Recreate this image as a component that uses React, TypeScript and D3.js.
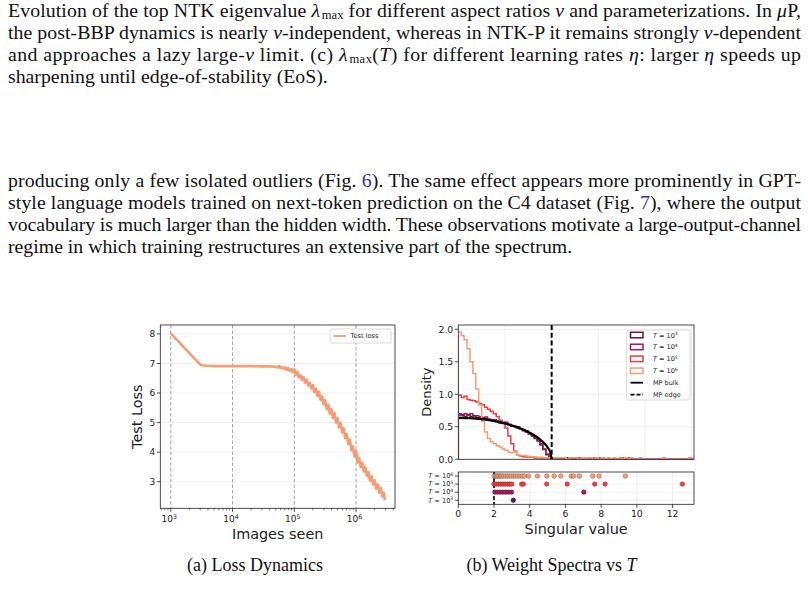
import React from 'react';
import * as d3 from 'd3';

// constants
const W = 808;
const H = 593;
const SANS = '"DejaVu Sans", sans-serif';
const SERIF = '"Liberation Serif", "Times New Roman", serif';
const INK = '#222';

// ---------- paper text ----------
type Seg = [string, string?];
const para1: Seg[][] = [
  [['Evolution of the top NTK eigenvalue '], ['λ', 'i'], ['max', 'sub'], [' for different aspect ratios '], ['ν', 'i'], [' and parameterizations. In '], ['μ', 'i'], ['P,']],
  [['the post-BBP dynamics is nearly '], ['ν', 'i'], ['-independent, whereas in NTK-P it remains strongly '], ['ν', 'i'], ['-dependent']],
  [['and approaches a lazy large-'], ['ν', 'i'], [' limit. (c) '], ['λ', 'i'], ['max', 'sub'], ['('], ['T', 'i'], [')'], [' for different learning rates '], ['η', 'i'], [': larger '], ['η', 'i'], [' speeds up']],
  [['sharpening until edge-of-stability (EoS).']],
];
const para2: Seg[][] = [
  [['producing only a few isolated outliers (Fig. '], ['6', 'blue'], ['). The same effect appears more prominently in GPT-']],
  [['style language models trained on next-token prediction on the C4 dataset (Fig. '], ['7', 'blue'], ['), where the output']],
  [['vocabulary is much larger than the hidden width. These observations motivate a large-output-channel']],
  [['regime in which training restructures an extensive part of the spectrum.']],
];

// ---------- (a) loss dynamics ----------
const lossSteps = [
  1.0e3, 1.5e3, 2.0e3, 2.5e3, 3.0e3, 3.5e3, 4.0e3, 5.0e3, 1.0e4, 2.0e4, 3.0e4, 4.0e4,
  5.01e4, 5.31e4, 5.62e4, 5.96e4, 6.31e4, 6.68e4, 7.08e4, 7.50e4, 7.94e4, 8.41e4, 8.91e4, 9.44e4,
  1.00e5, 1.06e5, 1.12e5, 1.19e5, 1.26e5, 1.33e5, 1.41e5, 1.50e5, 1.58e5, 1.68e5, 1.78e5, 1.88e5,
  2.00e5, 2.11e5, 2.24e5, 2.37e5, 2.51e5, 2.66e5, 2.82e5, 2.99e5, 3.16e5, 3.35e5, 3.55e5, 3.76e5,
  3.98e5, 4.22e5, 4.47e5, 4.73e5, 5.01e5, 5.31e5, 5.62e5, 5.96e5, 6.31e5, 6.68e5, 7.08e5, 7.50e5,
  7.94e5, 8.41e5, 8.91e5, 9.44e5, 1.00e6, 1.06e6, 1.12e6, 1.19e6, 1.26e6, 1.33e6, 1.41e6, 1.50e6,
  1.58e6, 1.68e6, 1.78e6, 1.88e6, 2.00e6, 2.11e6, 2.24e6, 2.37e6, 2.51e6, 2.66e6, 2.82e6, 2.92e6,
];
const lossValues = [
  8.02, 7.63, 7.35, 7.14, 6.96, 6.93, 6.92, 6.91, 6.91, 6.91, 6.90, 6.90,
  6.89, 6.86, 6.92, 6.85, 6.88, 6.82, 6.87, 6.78, 6.85, 6.75, 6.81, 6.70,
  6.80, 6.61, 6.72, 6.53, 6.60, 6.44, 6.54, 6.35, 6.45, 6.25, 6.35, 6.15,
  6.27, 6.03, 6.15, 5.90, 6.05, 5.77, 5.89, 5.61, 5.75, 5.45, 5.61, 5.30,
  5.47, 5.15, 5.33, 5.00, 5.15, 4.83, 4.99, 4.66, 4.82, 4.47, 4.61, 4.27,
  4.42, 4.07, 4.19, 3.85, 4.05, 3.65, 3.81, 3.49, 3.65, 3.34, 3.50, 3.19,
  3.33, 3.04, 3.19, 2.90, 3.05, 2.76, 2.91, 2.63, 2.79, 2.50, 2.63, 2.38,
];
const lossYTicks = [3, 4, 5, 6, 7, 8];
const lossXTicks = [1e3, 1e4, 1e5, 1e6];
const lossXLabels = ['3', '4', '5', '6'];
const lossColor = '#f69c73';

// ---------- (b) weight spectra ----------
const tExponents = ['3', '4', '5', '6'];
const tColors = ['#4c1d4b', '#a11a5b', '#e83f3f', '#f69c73'];
const binWidth = 0.0625;
const binCount = 81;
// densities for bins from 0 to 2 (bulk)
const hist1e3 = [0.68, 0.69, 0.66, 0.68, 0.66, 0.67, 0.64, 0.65, 0.62, 0.63, 0.61, 0.61, 0.59, 0.59, 0.56, 0.57,
  0.54, 0.54, 0.51, 0.51, 0.48, 0.47, 0.44, 0.42, 0.39, 0.36, 0.32, 0.28, 0.22, 0.15, 0.07, 0.02];
const hist1e4 = [0.70, 0.67, 0.70, 0.68, 0.70, 0.66, 0.67, 0.65, 0.64, 0.65, 0.62, 0.60, 0.61, 0.58, 0.58, 0.56,
  0.57, 0.53, 0.52, 0.50, 0.50, 0.47, 0.45, 0.44, 0.40, 0.38, 0.34, 0.30, 0.24, 0.16, 0.08, 0.03];
const hist1e5 = [0.99, 0.95, 0.97, 0.92, 0.91, 0.90, 0.88, 0.86, 0.84, 0.80, 0.77, 0.74, 0.70, 0.66, 0.60, 0.55,
  0.48, 0.36, 0.24, 0.12, 0.07, 0.05, 0.04, 0.035, 0.03, 0.03, 0.02, 0.02, 0.02, 0.01, 0.01, 0.01];
const hist1e6 = [1.96, 1.90, 1.84, 1.70, 1.50, 1.32, 1.08, 0.84, 0.58, 0.42, 0.32, 0.27, 0.24, 0.21, 0.19, 0.16,
  0.14, 0.11, 0.10, 0.13, 0.07, 0.06, 0.06, 0.05, 0.04, 0.04, 0.035, 0.03, 0.03, 0.025, 0.02, 0.02];
const hists = [hist1e3, hist1e4, hist1e5, hist1e6];
const tailDensityPerValue = 0.025;

// Marchenko-Pastur bulk
const mpS = [0, 0.25, 0.5, 0.75, 1.0, 1.25, 1.5, 1.65, 1.75, 1.85, 1.92, 1.97, 2.0];
const mpDensity = [0.637, 0.632, 0.617, 0.590, 0.551, 0.497, 0.421, 0.360, 0.308, 0.241, 0.177, 0.110, 0.0];
const mpEdge = 2;

// singular values above the edge
const outliers1e3 = [3.08];
const outliers1e4 = [2.05, 2.2, 2.35, 2.5, 2.65, 2.8, 2.98, 7.03];
const outliers1e5 = [2.0, 2.12, 2.25, 2.38, 2.5, 2.62, 2.75, 2.88, 3.0, 3.55, 3.65, 4.95, 6.1, 7.64, 8.22, 12.55];
const outliers1e6 = [2.02, 2.08, 2.15, 2.22, 2.3, 2.38, 2.45, 2.55, 2.65, 2.75, 2.85, 2.95, 3.08, 3.2, 3.32, 3.45,
  3.58, 3.7, 3.93, 4.43, 4.96, 5.37, 5.74, 6.33, 6.45, 6.78, 7.53, 7.88, 9.35];
const outliers = [outliers1e3, outliers1e4, outliers1e5, outliers1e6];

const densityTicks = [0, 0.5, 1.0, 1.5, 2.0];
const singularTicks = [0, 2, 4, 6, 8, 10, 12];

// layout
const aL = { x0: 160.3, x1: 395, y0: 325, y1: 508.3 };
const aT = { x0: 458.3, x1: 694, y0: 325, y1: 459.3 };
const aB = { x0: 458.3, x1: 694, y0: 472, y1: 504.3 };

const TextLines = ({ lines, y0, lead }: { lines: Seg[][]; y0: number; lead: number }) => (
  <g fontFamily={SERIF} fontSize={19.8} fill="#111">
    {lines.map((segs, li) => {
      const justify = li < lines.length - 1;
      let shift = 0;
      return (
        <text key={li} x={8} y={y0 + li * lead} textLength={justify ? 793 : undefined} lengthAdjust="spacing">
          {segs.map(([t, s], si) => {
            let dy = 0;
            if (s === 'sub') { dy = 2.5 - shift; shift = 2.5; } else { dy = -shift; shift = 0; }
            return (
              <tspan key={si} dy={dy || undefined} dx={s === 'sub' ? 1.5 : undefined}
                fontStyle={s === 'i' ? 'italic' : undefined}
                fontSize={s === 'sub' ? 12.5 : undefined}
                fill={s === 'blue' ? '#2f2fb8' : undefined}>{t}</tspan>
            );
          })}
        </text>
      );
    })}
  </g>
);

const TLabel = ({ x, y, exp, anchor, size }: { x: number; y: number; exp: string; anchor: string; size: number }) => (
  <text x={x} y={y} textAnchor={anchor} fontFamily={SANS} fontSize={size} fill={INK}>
    <tspan fontStyle="italic">T</tspan>
    <tspan>{' = 10'}</tspan>
    <tspan dy={-size * 0.4} fontSize={size * 0.7}>{exp}</tspan>
  </text>
);

export default function App() {
  // (a) scales
  const xL = d3.scaleLog().domain([676, 4.27e6]).range([aL.x0, aL.x1]);
  const yL = d3.scaleLinear().domain([2.1, 8.3]).range([aL.y1, aL.y0]);
  const lossLine = d3.line<number>().x((d, i) => xL(lossSteps[i])).y(d => yL(d));
  const minorL: number[] = [];
  [100, 1e3, 1e4, 1e5, 1e6].forEach(dec => d3.range(2, 10).forEach(m => {
    const v = dec * m;
    if (v > xL.domain()[0] && v < xL.domain()[1]) minorL.push(v);
  }));

  // (b) scales
  const xT = d3.scaleLinear().domain([0, 5.05]).range([aT.x0, aT.x1]);
  const yT = d3.scaleLinear().domain([0, 2.066]).range([aT.y1, aT.y0]);
  const xB = d3.scaleLinear().domain([0, 13.2]).range([aB.x0, aB.x1]);
  const yB = d3.scaleLinear().domain([-0.5, 3.5]).range([aB.y1, aB.y0]);

  const fullHist = (si: number) => {
    const h = d3.range(binCount).map(k => (k < hists[si].length ? hists[si][k] : 0));
    outliers[si].forEach(v => {
      const k = Math.floor(v / binWidth);
      if (k >= hists[si].length && k < binCount) h[k] += tailDensityPerValue;
    });
    return h;
  };
  const stepPath = (h: number[]) => {
    const pts: [number, number][] = [[0, 0]];
    h.forEach((v, k) => { pts.push([k * binWidth, v]); pts.push([(k + 1) * binWidth, v]); });
    pts.push([binCount * binWidth, 0]);
    return d3.line<[number, number]>().x(d => xT(d[0])).y(d => yT(d[1]))(pts) || '';
  };
  const mpLine = d3.line<number>().x((d, i) => xT(mpS[i])).y(d => yT(d)).curve(d3.curveMonotoneX);

  return (
    <div style={{ position: 'absolute', left: 0, top: 0 }}>
      <svg width={W} height={H} style={{ display: 'block', background: '#fff' }}>
        <defs>
          <clipPath id="clipT"><rect x={aT.x0} y={aT.y0} width={aT.x1 - aT.x0} height={aT.y1 - aT.y0} /></clipPath>
          <clipPath id="clipL"><rect x={aL.x0} y={aL.y0} width={aL.x1 - aL.x0} height={aL.y1 - aL.y0} /></clipPath>
        </defs>

        <TextLines lines={para1} y0={16.5} lead={22.2} />
        <TextLines lines={para2} y0={186.5} lead={22.2} />

        {/* ---------- (a) ---------- */}
        <g>
          {lossYTicks.map(t => (
            <line key={t} x1={aL.x0} x2={aL.x1} y1={yL(t)} y2={yL(t)} stroke="#ebebeb" strokeWidth={0.8} />
          ))}
          {lossXTicks.map(t => (
            <line key={t} x1={xL(t)} x2={xL(t)} y1={aL.y0} y2={aL.y1} stroke="#9a9a9a" strokeWidth={0.9} strokeDasharray="3.5,2" />
          ))}
          <path d={lossLine(lossValues) || ''} fill="none" stroke={lossColor} strokeWidth={2.6} clipPath="url(#clipL)" strokeLinejoin="round" />
          <rect x={aL.x0} y={aL.y0} width={aL.x1 - aL.x0} height={aL.y1 - aL.y0} fill="none" stroke={INK} strokeWidth={0.8} />
          {lossYTicks.map(t => (
            <g key={t}>
              <line x1={aL.x0 - 3.5} x2={aL.x0} y1={yL(t)} y2={yL(t)} stroke={INK} strokeWidth={0.8} />
              <text x={aL.x0 - 5} y={yL(t) + 3.2} textAnchor="end" fontFamily={SANS} fontSize={9} fill={INK}>{t}</text>
            </g>
          ))}
          {minorL.map(t => (
            <line key={t} x1={xL(t)} x2={xL(t)} y1={aL.y1} y2={aL.y1 + 2} stroke={INK} strokeWidth={0.6} />
          ))}
          {lossXTicks.map((t, i) => (
            <g key={t}>
              <line x1={xL(t)} x2={xL(t)} y1={aL.y1} y2={aL.y1 + 3.5} stroke={INK} strokeWidth={0.8} />
              <text x={xL(t) - 1.5} y={aL.y1 + 14} textAnchor="middle" fontFamily={SANS} fontSize={9} fill={INK}>
                10<tspan dy={-3.8} fontSize={6.3}>{lossXLabels[i]}</tspan>
              </text>
            </g>
          ))}
          <text x={(aL.x0 + aL.x1) / 2} y={538.5} textAnchor="middle" fontFamily={SANS} fontSize={14.4} fill={INK}>Images seen</text>
          <text transform={`translate(142,${(aL.y0 + aL.y1) / 2}) rotate(-90)`} textAnchor="middle" fontFamily={SANS} fontSize={14.4} fill={INK}>Test Loss</text>
          {/* legend */}
          <rect x={330} y={329} width={61} height={14} rx={2} fill="#fff" fillOpacity={0.8} stroke="#d0d0d0" strokeWidth={0.8} />
          <line x1={333.5} x2={346} y1={336} y2={336} stroke={lossColor} strokeWidth={1.8} />
          <text x={350.5} y={338.4} fontFamily={SANS} fontSize={6.6} fill={INK}>Test loss</text>
          <text x={255} y={571} textAnchor="middle" fontFamily={SERIF} fontSize={18} fill="#111">(a) Loss Dynamics</text>
        </g>

        {/* ---------- (b) top: density ---------- */}
        <g>
          {densityTicks.map(t => (
            <line key={t} x1={aT.x0} x2={aT.x1} y1={yT(t)} y2={yT(t)} stroke="#ebebeb" strokeWidth={0.8} />
          ))}
          {[1, 2, 3, 4, 5].map(t => (
            <line key={t} x1={xT(t)} x2={xT(t)} y1={aT.y0} y2={aT.y1} stroke="#ebebeb" strokeWidth={0.8} />
          ))}
          <g clipPath="url(#clipT)">
            {hists.map((_, si) => (
              <path key={si} d={stepPath(fullHist(si))} fill="none" stroke={tColors[si]} strokeWidth={1.5} strokeLinejoin="miter" />
            ))}
            <path d={mpLine(mpDensity) || ''} fill="none" stroke="#000" strokeWidth={2.2} />
            <line x1={xT(mpEdge)} x2={xT(mpEdge)} y1={aT.y0} y2={aT.y1} stroke="#000" strokeWidth={2} strokeDasharray="5,2.8" />
          </g>
          <rect x={aT.x0} y={aT.y0} width={aT.x1 - aT.x0} height={aT.y1 - aT.y0} fill="none" stroke={INK} strokeWidth={0.8} />
          {densityTicks.map(t => (
            <g key={t}>
              <line x1={aT.x0 - 3.5} x2={aT.x0} y1={yT(t)} y2={yT(t)} stroke={INK} strokeWidth={0.8} />
              <text x={aT.x0 - 5} y={yT(t) + 3.3} textAnchor="end" fontFamily={SANS} fontSize={9.3} fill={INK}>{t.toFixed(1)}</text>
            </g>
          ))}
          <text transform={`translate(430.5,${(aT.y0 + aT.y1) / 2}) rotate(-90)`} textAnchor="middle" fontFamily={SANS} fontSize={13} fill={INK}>Density</text>
          {/* legend */}
          <rect x={626.7} y={330} width={63.5} height={70} rx={2} fill="#fff" fillOpacity={0.8} stroke="#d0d0d0" strokeWidth={0.8} />
          {tExponents.map((e, i) => (
            <g key={e}>
              <rect x={630.5} y={332.3 + i * 11.9} width={12.5} height={5.5} fill="none" stroke={tColors[i]} strokeWidth={1.5} />
              <TLabel x={653} y={337.5 + i * 11.9} exp={e} anchor="start" size={6.5} />
            </g>
          ))}
          <line x1={630.5} x2={643} y1={382.7} y2={382.7} stroke="#000" strokeWidth={1.8} />
          <text x={653} y={385} fontFamily={SANS} fontSize={6.5} fill={INK}>MP bulk</text>
          <line x1={630.5} x2={643} y1={394.6} y2={394.6} stroke="#000" strokeWidth={1.8} strokeDasharray="4,2" />
          <text x={653} y={397} fontFamily={SANS} fontSize={6.5} fill={INK}>MP edge</text>
        </g>

        {/* ---------- (b) bottom: outliers ---------- */}
        <g>
          {singularTicks.map(t => (
            <line key={t} x1={xB(t)} x2={xB(t)} y1={aB.y0} y2={aB.y1} stroke="#ebebeb" strokeWidth={0.8} />
          ))}
          {tExponents.map((e, i) => (
            <line key={e} x1={aB.x0} x2={aB.x1} y1={yB(i)} y2={yB(i)} stroke="#ebebeb" strokeWidth={0.8} />
          ))}
          <line x1={xB(mpEdge)} x2={xB(mpEdge)} y1={aB.y0} y2={aB.y1} stroke="#000" strokeWidth={1.6} strokeDasharray="4,2" />
          {outliers.map((vals, i) => (
            <g key={i}>
              {vals.map((v, j) => (
                <circle key={j} cx={xB(v)} cy={yB(i)} r={2.4} fill={tColors[i]} stroke="#3a2a2a" strokeOpacity={0.55} strokeWidth={0.5} />
              ))}
            </g>
          ))}
          <rect x={aB.x0} y={aB.y0} width={aB.x1 - aB.x0} height={aB.y1 - aB.y0} fill="none" stroke={INK} strokeWidth={0.8} />
          {tExponents.map((e, i) => (
            <g key={e}>
              <line x1={aB.x0 - 3.5} x2={aB.x0} y1={yB(i)} y2={yB(i)} stroke={INK} strokeWidth={0.8} />
              <TLabel x={aB.x0 - 5} y={yB(i) + 2.3} exp={e} anchor="end" size={6.6} />
            </g>
          ))}
          {singularTicks.map(t => (
            <g key={t}>
              <line x1={xB(t)} x2={xB(t)} y1={aB.y1} y2={aB.y1 + 3.5} stroke={INK} strokeWidth={0.8} />
              <text x={xB(t)} y={aB.y1 + 13} textAnchor="middle" fontFamily={SANS} fontSize={9.3} fill={INK}>{t}</text>
            </g>
          ))}
          <text x={(aB.x0 + aB.x1) / 2} y={533.5} textAnchor="middle" fontFamily={SANS} fontSize={14.4} fill={INK}>Singular value</text>
          <text x={551.5} y={571} textAnchor="middle" fontFamily={SERIF} fontSize={18} fill="#111">
            (b) Weight Spectra vs <tspan fontStyle="italic">T</tspan>
          </text>
        </g>
      </svg>
    </div>
  );
}
